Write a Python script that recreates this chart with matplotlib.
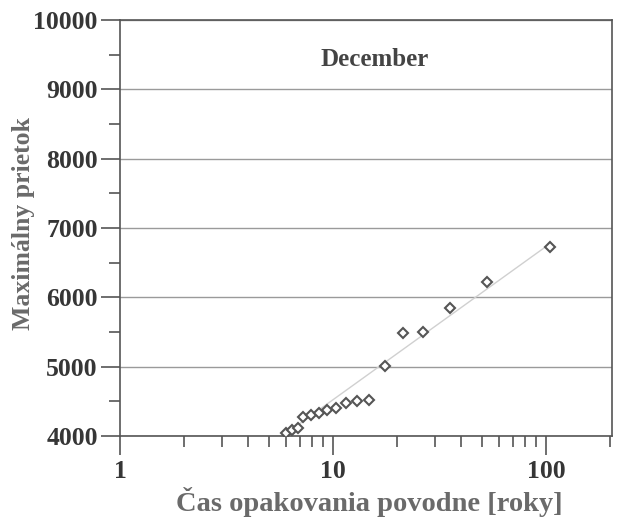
import matplotlib
matplotlib.use("Agg")
import matplotlib.pyplot as plt
from matplotlib.ticker import LogLocator, NullFormatter, FixedLocator, MultipleLocator

# return period [years] and maximum flow
return_period = [6.0, 6.4, 6.85, 7.2, 7.9, 8.6, 9.4, 10.3, 11.5, 13.0, 14.8,
                 17.5, 21.3, 26.5, 35.4, 52.8, 104.0]
max_flow = [4040, 4085, 4115, 4275, 4300, 4330, 4375, 4405, 4475, 4505, 4520,
            5010, 5485, 5500, 5845, 6220, 6720]

# fitted trend line end points
fit_period = [5.5, 105.0]
fit_flow = [3950, 6780]

y_ticks = [4000, 5000, 6000, 7000, 8000, 9000, 10000]
x_ticks = [1, 10, 100]
x_tick_labels = ["1", "10", "100"]

plt.rcParams["font.family"] = ["Liberation Serif", "DejaVu Serif"]
plt.rcParams["font.weight"] = "bold"

fig = plt.figure(figsize=(6.19, 5.23), dpi=100)
ax = fig.add_axes([0.1939, 0.1663, 0.7948, 0.7955])

ax.plot(fit_period, fit_flow, color="#d0d0d0", lw=1.0, zorder=2)
ax.plot(return_period, max_flow, ls="none", marker="D", ms=5.5, mfc="white",
        mec="#555555", mew=1.5, zorder=3)

ax.set_xscale("log")
ax.set_xlim(1, 204)
ax.set_ylim(4000, 10000)

ax.xaxis.set_major_locator(FixedLocator(x_ticks))
ax.set_xticklabels(x_tick_labels)
ax.xaxis.set_minor_locator(LogLocator(base=10, subs=range(2, 10)))
ax.xaxis.set_minor_formatter(NullFormatter())
ax.set_yticks(y_ticks)
ax.yaxis.set_minor_locator(MultipleLocator(500))

ax.grid(axis="y", which="major", color="#9a9a9a", lw=1.0)
ax.set_axisbelow(True)

for side in ["left", "right", "top", "bottom"]:
    ax.spines[side].set_color("#555555")
    ax.spines[side].set_linewidth(1.2)

ax.tick_params(axis="both", which="major", direction="out", length=14,
               width=1.2, color="#555555", labelsize=18.5, labelcolor="#363636")
ax.tick_params(axis="both", which="minor", direction="out", length=8,
               width=1.2, color="#555555")
ax.tick_params(axis="x", which="major", pad=3)
ax.tick_params(axis="y", which="major", pad=2)

ax.set_xlabel("Čas opakovania povodne [roky]", fontsize=20.5, color="#6a6a6a",
              fontweight="bold")
ax.xaxis.set_label_coords(0.506, -0.122)
ax.set_ylabel("Maximálny prietok", fontsize=18.5, color="#6a6a6a",
              fontweight="bold")
ax.yaxis.set_label_coords(-0.172, 0.51)
ax.text(0.518, 0.904, "December", transform=ax.transAxes, ha="center",
        va="center", fontsize=18, color="#444444", fontweight="bold")

fig.savefig("out.png", dpi=100)
